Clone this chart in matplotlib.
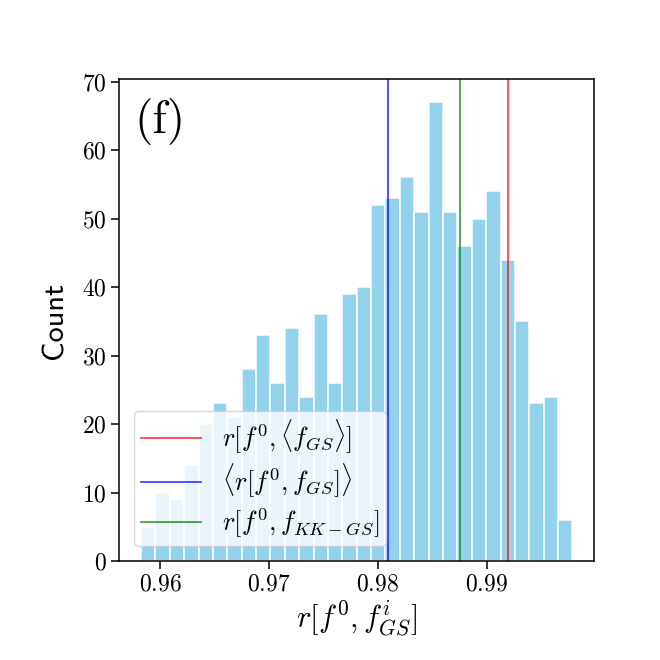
import numpy as np
import matplotlib
matplotlib.use("Agg")
import matplotlib.pyplot as plt

plt.rcParams['font.family'] = 'cmr10'
plt.rcParams['mathtext.fontset'] = 'cm'
plt.rcParams['axes.formatter.use_mathtext'] = True

# histogram counts (30 bins)
counts = [5, 10, 9, 14, 20, 23, 21, 28, 33, 26, 34, 24, 36, 26, 39,
          40, 52, 53, 56, 51, 67, 51, 46, 50, 54, 44, 35, 23, 24, 6]
bin_lo, bin_hi = 0.95823, 0.99789
edges = np.linspace(bin_lo, bin_hi, len(counts) + 1)

# reference values (vertical lines)
r_mean_f = 0.99196      # r[f0, <f_GS>]
mean_r = 0.98097        # <r[f0, f_GS]>
r_kk = 0.98759          # r[f0, f_KK-GS]

fig = plt.figure(figsize=(6.6, 6.6), dpi=100)
ax = fig.add_axes([0.181, 0.150, 0.719, 0.730])

ax.hist(edges[:-1], bins=edges, weights=counts, color='skyblue', alpha=0.9,
        edgecolor='white', linewidth=1.2)

ax.axvline(r_mean_f, color='red', alpha=0.8, lw=1.2, label=r'$r[f^0, \langle f_{GS}\rangle]$')
ax.axvline(mean_r, color='blue', alpha=0.8, lw=1.2, label=r'$\langle r[f^0, f_{GS}]\rangle$')
ax.axvline(r_kk, color='green', alpha=0.8, lw=1.2, label=r'$r[f^0, f_{KK-GS}]$')

ax.set_xticks([0.96, 0.97, 0.98, 0.99])
ax.set_yticks(range(0, 71, 10))
ax.tick_params(labelsize=17, length=5.5, width=1.1)
for s in ax.spines.values():
    s.set_linewidth(1.1)

ax.set_xlabel(r'$r[f^0, f^i_{GS}]$', fontsize=22, labelpad=2)
ax.set_ylabel('Count', fontsize=22, family='cmss10', labelpad=10)

ax.text(0.032, 0.962, '(f)', transform=ax.transAxes, fontsize=34,
        va='top', ha='left')

ax.legend(loc='lower left', fontsize=19, handlelength=2.3, labelspacing=0.24,
          borderpad=0.25, borderaxespad=0.55)

fig.savefig('out.png', dpi=100)
